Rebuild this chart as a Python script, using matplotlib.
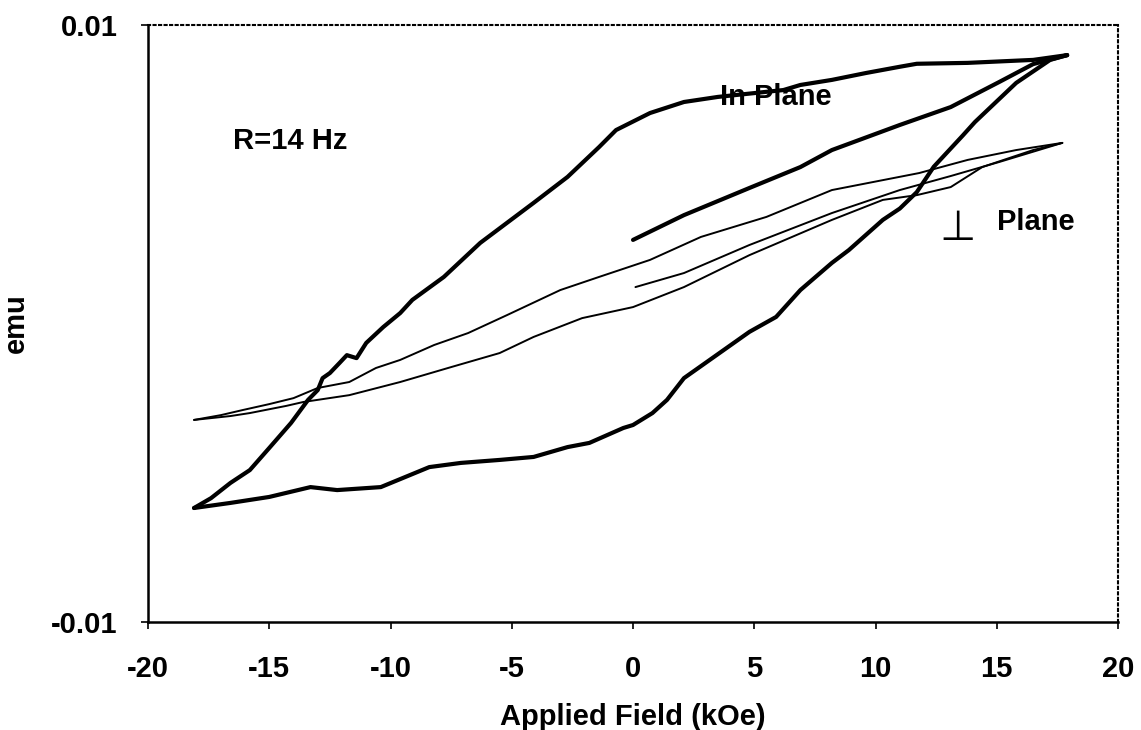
import matplotlib.pyplot as plt
import matplotlib
import numpy as np

matplotlib.rcParams['font.family'] = ['Liberation Sans', 'DejaVu Sans']
matplotlib.rcParams['font.weight'] = 'bold'
matplotlib.rcParams['axes.unicode_minus'] = False

# In plane loop (thick)
ip_down_x = [17.9, 16.5, 13.8, 11.7, 11.0, 9.6, 8.2, 6.9, 6.2, 3.5, 2.1, 0.7, -0.7, -1.4,
             -2.7, -4.1, -6.3, -7.8, -9.1, -9.6, -10.3, -11.0, -11.4, -11.8, -12.1, -12.5,
             -12.8, -13.0, -13.4, -14.1, -15.0, -15.8, -16.6, -17.4, -18.1]
ip_down_y = [8.99, 8.83, 8.73, 8.70, 8.60, 8.39, 8.16, 7.99, 7.82, 7.59, 7.42, 7.05, 6.48, 5.91,
             4.91, 4.04, 2.70, 1.56, 0.79, 0.35, -0.12, -0.65, -1.16, -1.06, -1.32, -1.66,
             -1.83, -2.23, -2.56, -3.33, -4.17, -4.91, -5.34, -5.85, -6.18]
ip_up_x = [-18.1, -16.6, -15.0, -13.3, -12.2, -10.4, -8.4, -7.1, -5.5, -4.1, -2.7, -1.8, -0.4,
           0.0, 0.8, 1.4, 2.1, 4.8, 5.9, 6.9, 8.2, 8.9, 10.3, 11.0, 11.7, 12.4, 13.6, 14.1,
           15.8, 17.2, 17.9]
ip_up_y = [-6.18, -6.01, -5.81, -5.48, -5.58, -5.48, -4.81, -4.67, -4.57, -4.47, -4.14, -4.00,
           -3.50, -3.40, -3.00, -2.56, -1.83, -0.28, 0.22, 1.12, 2.03, 2.46, 3.47, 3.85, 4.40,
           5.25, 6.30, 6.75, 8.06, 8.83, 8.99]
ip_virgin_x = [0.0, 2.1, 4.8, 6.9, 8.2, 11.0, 13.1, 15.1, 16.5, 17.9]
ip_virgin_y = [2.80, 3.63, 4.54, 5.24, 5.81, 6.65, 7.25, 8.09, 8.69, 8.99]

# Perpendicular loop (thin)
pp_down_x = [17.7, 15.8, 13.8, 11.8, 8.2, 5.5, 2.8, 0.7, -1.4, -3.0, -5.2, -6.8, -8.2, -9.6,
             -10.6, -11.7, -13.0, -14.0, -15.0, -16.1, -17.0, -18.1]
pp_down_y = [6.05, 5.81, 5.48, 5.04, 4.47, 3.57, 2.90, 2.13, 1.56, 1.12, 0.28, -0.32, -0.72,
             -1.22, -1.49, -1.96, -2.16, -2.50, -2.70, -2.90, -3.07, -3.23]
pp_up_x = [-18.1, -16.6, -15.8, -14.3, -13.6, -11.7, -9.6, -7.5, -5.5, -4.1, -2.1, 0.0, 2.1,
           4.8, 8.2, 10.3, 11.7, 13.1, 14.4, 16.5, 17.7]
pp_up_y = [-3.23, -3.10, -3.00, -2.76, -2.63, -2.40, -1.96, -1.46, -0.99, -0.45, 0.18, 0.55,
           1.22, 2.29, 3.47, 4.14, 4.30, 4.57, 5.24, 5.81, 6.05]
pp_virgin_x = [0.1, 2.1, 4.8, 8.2, 11.0, 13.1, 15.1, 17.7]
pp_virgin_y = [1.22, 1.69, 2.63, 3.70, 4.47, 4.94, 5.41, 6.05]

fig = plt.figure(figsize=(11.41, 7.30), dpi=100)
ax = fig.add_axes([0.1297, 0.1479, 0.8502, 0.8179])

for xs, ys in [(ip_down_x, ip_down_y), (ip_up_x, ip_up_y), (ip_virgin_x, ip_virgin_y)]:
    ax.plot(xs, np.array(ys) * 1e-3, color='black', lw=3.0, solid_capstyle='round',
            solid_joinstyle='round')
for xs, ys in [(pp_down_x, pp_down_y), (pp_up_x, pp_up_y), (pp_virgin_x, pp_virgin_y)]:
    ax.plot(xs, np.array(ys) * 1e-3, color='black', lw=1.4, solid_capstyle='round',
            solid_joinstyle='round')

ax.set_xlim(-20, 20)
ax.set_ylim(-0.01, 0.01)
ax.set_xticks(np.arange(-20, 21, 5))
ax.set_yticks([-0.01, 0.01])
ax.set_yticklabels(['-0.01', '0.01'])
ax.tick_params(axis='both', labelsize=21, direction='out', length=5, width=1.2)
ax.tick_params(axis='x', pad=19)
ax.tick_params(axis='y', pad=17)

for s in ['left', 'bottom']:
    ax.spines[s].set_linewidth(1.8)
for s in ['top', 'right']:
    ax.spines[s].set_linestyle(':')
    ax.spines[s].set_linewidth(1.5)

ax.set_xlabel('Applied Field (kOe)', fontsize=21, fontweight='bold', labelpad=14)
ax.set_ylabel('emu', fontsize=21, fontweight='bold', va='center')
ax.yaxis.set_label_coords(-0.136, 0.5)

ax.text(-16.5, 0.0061, 'R=14 Hz', fontsize=21, fontweight='bold', ha='left', va='center')
ax.text(3.6, 0.0076, 'In Plane', fontsize=21, fontweight='bold', ha='left', va='center')
ax.text(15.0, 0.0034, 'Plane', fontsize=21, fontweight='bold', ha='left', va='center')
ax.text(13.4, 0.0032, '\u22a5', fontsize=30, fontweight='normal', family=['DejaVu Sans'],
        ha='center', va='center')

fig.savefig('out.png', dpi=100)
